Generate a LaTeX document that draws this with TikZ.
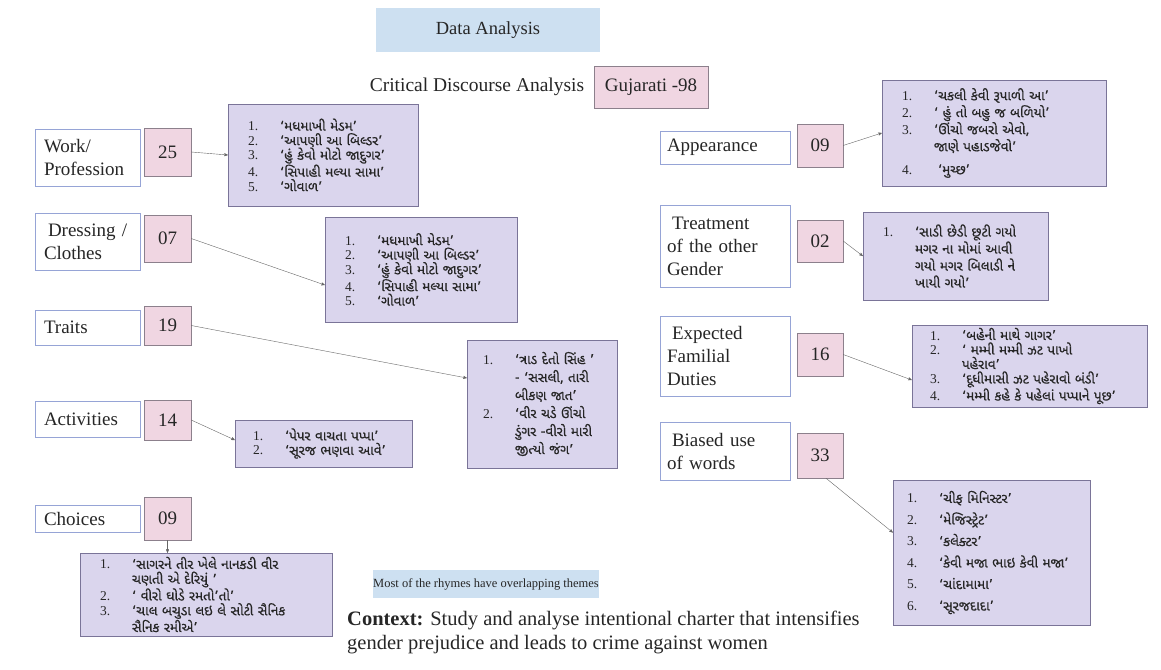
\documentclass[tikz,border=0pt]{standalone}
\usepackage{fontspec}
\setmainfont{Liberation Serif}
\newfontfamily\guj[Script=Gujarati,FakeBold=0.5]{Noto Sans Gujarati UI}
\usetikzlibrary{arrows}

\definecolor{daBlue}{RGB}{205,224,241}
\definecolor{catBlue}{RGB}{150,164,214}
\definecolor{numPink}{RGB}{240,214,226}
\definecolor{numBorder}{RGB}{140,128,140}
\definecolor{lstFill}{RGB}{218,213,237}
\definecolor{lstBorder}{RGB}{122,116,152}

% number column of the rhyme lists
\newcommand{\itm}[1]{\makebox[32pt][l]{\rmfamily #1}}

\begin{document}
\begin{tikzpicture}
    [
      x=1pt,y=-1pt,
      every node/.style={text=black!85},
      catbox/.style={draw=catBlue,fill=white,rectangle,align=left,
        inner xsep=9pt,inner ysep=2pt,font=\fontsize{19}{23}\selectfont},
      numbox/.style={draw=numBorder,fill=numPink,rectangle,inner sep=0pt,
        font=\fontsize{19}{23}\selectfont},
      listbox/.style={draw=lstBorder,fill=lstFill,rectangle,align=left,
        inner xsep=20pt,inner ysep=0pt,font=\guj\fontsize{13.5}{14.5}\selectfont},
      notebox/.style={fill=daBlue,rectangle,inner sep=0pt},
      link/.style={-stealth',draw=black!60}
    ]

    \useasboundingbox (0,0) rectangle (1161,669);

    % heading
    \node at (488,30) [notebox,minimum width=224pt,minimum height=44pt,
      font=\fontsize{18.5}{21}\selectfont] (heading) {Data Analysis};
    \node at (477,87) [font=\fontsize{19.5}{22}\selectfont] (cda) {Critical Discourse Analysis};
    \node at (651,87) [numbox,minimum width=114pt,minimum height=42pt] (gujarati) {Gujarati -98};

    % left column: themes and counts
    \node at (87.5,157.5) [catbox,text width=87pt,minimum height=57pt] (work) {Work/\\Profession};
    \node at (167.5,152) [numbox,minimum width=47pt,minimum height=48pt] (nwork) {25};
    \node at (87.5,241.5) [catbox,text width=87pt,minimum height=57pt] (dress) {\hspace{4pt}Dressing /\\Clothes};
    \node at (167.5,238.5) [numbox,minimum width=47pt,minimum height=47pt] (ndress) {07};
    \node at (87.5,327.5) [catbox,text width=87pt,minimum height=35pt] (traits) {Traits};
    \node at (167.5,325.5) [numbox,minimum width=47pt,minimum height=39pt] (ntraits) {19};
    \node at (87.5,419) [catbox,text width=87pt,minimum height=36pt] (activ) {Activities};
    \node at (167.5,420) [numbox,minimum width=47pt,minimum height=40pt] (nactiv) {14};
    \node at (87.5,518.5) [catbox,text width=87pt,minimum height=27pt] (choice) {Choices};
    \node at (167.5,518.5) [numbox,minimum width=47pt,minimum height=43pt] (nchoice) {09};

    % right column: themes and counts
    \node at (725,147.5) [catbox,text width=116pt,inner xsep=7pt,minimum height=33pt] (looks) {Appearance};
    \node at (820,145.5) [numbox,minimum width=46pt,minimum height=43pt] (nlooks) {09};
    \node at (725,246) [catbox,text width=116pt,inner xsep=7pt,minimum height=82pt] (treat) {\hspace{5pt}Treatment\\of the other\\Gender};
    \node at (820,241) [numbox,minimum width=46pt,minimum height=42pt] (ntreat) {02};
    \node at (725,356) [catbox,text width=116pt,inner xsep=7pt,minimum height=80pt] (duty) {\hspace{5pt}Expected\\Familial\\Duties};
    \node at (820,354.5) [numbox,minimum width=46pt,minimum height=43pt] (nduty) {16};
    \node at (725,451) [catbox,text width=116pt,inner xsep=7pt,minimum height=58pt] (biased) {\hspace{5pt}Biased use\\of words};
    \node at (820,455.5) [numbox,minimum width=46pt,minimum height=45pt] (nbiased) {33};

    % rhyme lists
    \node at (323,155) [listbox,text width=150pt,minimum height=102pt] (lwork) {
      \itm{1.}‘મધમાખી મેડમ’\\
      \itm{2.}‘આપણી આ બિલ્ડર’\\
      \itm{3.}‘હું કેવો મોટો જાદુગર’\\
      \itm{4.}‘સિપાહી મલ્યા સામા’\\
      \itm{5.}‘ગોવાળ’};
    \node at (421,269.5) [listbox,text width=152pt,minimum height=105pt] (ldress) {
      \itm{1.}‘મધમાખી મેડમ’\\
      \itm{2.}‘આપણી આ બિલ્ડર’\\
      \itm{3.}‘હું કેવો મોટો જાદુગર’\\
      \itm{4.}‘સિપાહી મલ્યા સામા’\\
      \itm{5.}‘ગોવાળ’};
    \node at (542,404) [listbox,text width=118pt,inner xsep=16pt,minimum height=128pt,
      font=\guj\fontsize{13.5}{18}\selectfont] (ltraits) {
      \itm{1.}‘ત્રાડ દેતો સિંહ ’\\
      \itm{}- ‘સસલી, તારી\\
      \itm{}બીકણ જાત’\\
      \itm{2.}‘વીર ચડે ઊંચો\\
      \itm{}ડુંગર -વીરો મારી\\
      \itm{}જીત્યો જંગ’};
    \node at (323.5,443.5) [listbox,text width=141pt,inner xsep=18pt,minimum height=47pt] (lactiv) {
      \itm{1.}‘પેપર વાચતા પપ્પા’\\
      \itm{2.}‘સૂરજ ભણવા આવે’};
    \node at (206,594.5) [listbox,text width=212pt,minimum height=83pt,
      font=\guj\fontsize{13.5}{14.8}\selectfont] (lchoice) {
      \itm{1.}‘સાગરને તીર ખેલે નાનકડી વીર\\
      \itm{}ચણતી એ દેરિયું ’\\
      \itm{2.}‘ વીરો ઘોડે રમતો’તો’\\
      \itm{3.}‘ચાલ બચુડા લઇ લે સોટી સૈનિક\\
      \itm{}સૈનિક રમીએ’};
    \node at (994,133) [listbox,text width=184pt,minimum height=106pt,
      font=\guj\fontsize{13.5}{17}\selectfont] (llooks) {
      \itm{1.}‘ચકલી કેવી રૂપાળી આ’\\
      \itm{2.}‘ હું તો બહુ જ બળિયો’\\
      \itm{3.}‘ઊંચો જબરો એવો,\\
      \itm{}જાણે પહાડજેવો’\\[6pt]
      \itm{4.}\hspace{4pt}‘મુચ્છ’};
    \node at (955.5,256) [listbox,text width=145pt,minimum height=88pt,
      font=\guj\fontsize{13.5}{17}\selectfont] (ltreat) {
      \itm{1.}‘સાડી છેડી છૂટી ગયો\\
      \itm{}મગર ના મોમાં આવી\\
      \itm{}ગયો  મગર બિલાડી ને\\
      \itm{}ખાયી ગયો’};
    \node at (1029.5,366) [listbox,text width=199pt,inner xsep=18pt,minimum height=82pt] (lduty) {
      \itm{1.}‘બહેની માથે ગાગર’\\
      \itm{2.}‘ મમ્મી મમ્મી ઝટ પાખો\\
      \itm{}પહેરાવ’\\
      \itm{3.}‘દૂધીમાસી ઝટ પહેરાવો બંડી’\\
      \itm{4.}‘મમ્મી કહે કે પહેલાં પપ્પાને પૂછ’};
    \node at (991.5,552.5) [listbox,text width=169pt,inner xsep=14pt,minimum height=145pt,
      font=\guj\fontsize{13.5}{21.5}\selectfont] (lbiased) {
      \itm{1.}‘ચીફ મિનિસ્ટર’\\
      \itm{2.}‘મેજિસ્ટ્રેટ’\\
      \itm{3.}‘કલેક્ટર’\\
      \itm{4.}‘કેવી મજા ભાઇ કેવી મજા’\\
      \itm{5.}‘ચાંદામામા’\\
      \itm{6.}‘સૂરજદાદા’};

    % footer
    \node at (486,584) [notebox,minimum width=216pt,minimum height=28pt,
      font=\fontsize{12.5}{14}\selectfont] (overlap) {Most of the rhymes have overlapping themes};
    \node at (347,611) [anchor=north west,align=left,inner sep=0pt,
      font=\fontsize{20.5}{23.5}\selectfont] (context) {\textbf{Context:} Study and analyse intentional charter that intensifies\\
      gender prejudice and leads to crime against women};

    % links from counts to rhymes
    \draw [link] (nwork.east) -- (lwork.west);
    \draw [link] (ndress.east) -- ([yshift=-15.5pt]ldress.west);
    \draw [link] (ntraits.east) -- ([yshift=26pt]ltraits.west);
    \draw [link] (nactiv.east) -- ([yshift=3.5pt]lactiv.west);
    \draw [link] (nchoice.south) -- (nchoice.south |- lchoice.north);
    \draw [link] (nlooks.east) -- (llooks.west);
    \draw [link] (ntreat.east) -- (ltreat.west);
    \draw [link] (nduty.east) -- ([yshift=-14pt]lduty.west);
    \draw [link] ([xshift=6pt]nbiased.south) -- ([yshift=20pt]lbiased.west);
  \end{tikzpicture}
\end{document}
